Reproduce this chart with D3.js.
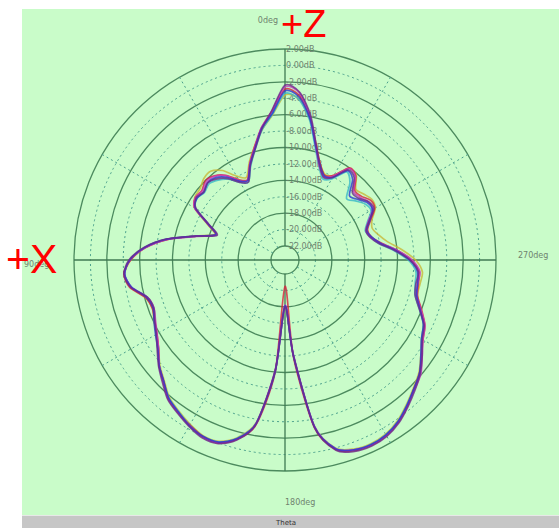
<!DOCTYPE html>
<html>
<head>
<meta charset="utf-8">
<script src="https://cdnjs.cloudflare.com/ajax/libs/d3/7.8.5/d3.min.js"></script>
<style>
  body { margin: 0; background: #fff; }
  svg { display: block; }
</style>
</head>
<body>
<div id="chart"></div>
<script>
// angle of each sample, degrees (0 = top, 90 = left, 180 = bottom, 270 = right)
var angles = [0,5,10,15,20,25,30,35,40,45,50,55,60,65,70,75,80,85,90,95,100,105,110,115,
  120,125,130,135,140,145,150,155,160,165,170,175,180,185,190,195,200,205,210,215,220,225,230,235,
  240,245,250,255,260,265,270,275,280,285,290,295,300,305,310,315,320,325,330,335,340,345,350,355]

var ringDb = [2,0,-2,-4,-6,-8,-10,-12,-14,-16,-18,-20,-22]
var spokeDeg = [30,60,120,150,210,240,300,330]
var angleLabels = ['0deg','90deg','180deg','270deg']

// gain in dB for each trace
var olive = [-3.6,-6.0,-7.6,-9.4,-11.0,-12.6,-11.9,-10.4,-9.6,-9.7,-10.2,-10.3,
  -11.0,-13.2,-14.6,-12.4,-9.2,-6.6,-4.9,-4.1,-4.6,-6.1,-6.5,-6.1,
  -5.6,-4.9,-3.8,-2.9,-1.8,-1.2,-0.6,-0.1,-0.2,-1.3,-3.6,-10.2,
  -18.0,-12.0,-3.2,0.0,0.8,1.0,0.8,0.2,-0.7,-1.6,-2.4,-3.5,
  -4.5,-5.1,-6.2,-7.0,-7.0,-6.9,-7.8,-9.4,-11.0,-11.9,-12.4,-12.0,
  -11.0,-10.8,-11.2,-11.5,-10.2,-10.1,-11.8,-12.2,-11.2,-9.2,-6.3,-4.0]
var cyan = [-3.4,-5.9,-7.6,-9.7,-11.5,-13.2,-12.8,-11.7,-11.0,-10.6,-10.9,-10.6,
  -11.1,-13.4,-14.8,-12.5,-9.1,-6.5,-4.8,-4.1,-4.7,-6.3,-6.6,-6.2,
  -5.6,-4.8,-3.7,-2.8,-1.7,-1.1,-0.5,0.0,-0.1,-1.2,-3.5,-10.2,
  -18.1,-12.1,-3.1,0.1,0.9,1.1,0.9,0.3,-0.6,-1.5,-2.3,-3.4,
  -4.5,-5.1,-6.3,-7.3,-7.6,-7.7,-8.7,-10.4,-12.1,-12.9,-13.3,-12.6,
  -11.6,-11.8,-12.5,-13.1,-11.4,-10.6,-12.3,-12.8,-11.6,-9.5,-6.4,-4.1]
var red = [-2.9,-5.5,-7.3,-9.4,-11.2,-12.9,-12.4,-11.1,-10.3,-10.0,-10.5,-10.4,
  -11.0,-13.3,-14.7,-12.5,-9.2,-6.6,-4.9,-4.0,-4.5,-6.1,-6.5,-6.2,
  -5.7,-4.9,-3.7,-2.8,-1.6,-1.0,-0.5,0.0,0.0,-1.1,-3.3,-10.0,
  -20.5,-11.8,-2.9,0.2,1.0,1.2,1.0,0.4,-0.5,-1.5,-2.3,-3.4,
  -4.3,-4.9,-6.0,-7.0,-7.2,-7.3,-8.3,-10.0,-11.8,-12.8,-13.0,-12.2,
  -11.1,-11.0,-11.6,-11.7,-10.3,-10.0,-11.8,-12.3,-11.2,-9.1,-6.1,-3.6]
var magenta = [-2.6,-5.5,-7.3,-9.5,-11.2,-13.0,-12.6,-11.2,-10.4,-10.2,-10.6,-10.4,
  -11.0,-13.4,-14.8,-12.6,-9.2,-6.6,-4.8,-4.1,-4.7,-6.3,-6.7,-6.3,
  -5.7,-4.9,-3.7,-2.7,-1.6,-1.0,-0.4,0.1,0.0,-1.1,-3.5,-10.4,
  -18.2,-12.2,-3.2,0.1,0.9,1.2,1.0,0.4,-0.5,-1.4,-2.1,-3.3,
  -4.3,-4.9,-6.1,-7.1,-7.3,-7.2,-8.2,-10.0,-11.9,-12.9,-13.2,-12.5,
  -11.4,-11.3,-11.8,-11.9,-10.4,-10.1,-11.9,-12.5,-11.5,-9.3,-6.0,-3.3]
var blue = [-3.1,-5.8,-7.4,-9.6,-11.3,-13.0,-12.6,-11.4,-10.6,-10.4,-10.8,-10.6,
  -11.1,-13.4,-14.7,-12.4,-9.1,-6.5,-4.8,-4.1,-4.7,-6.2,-6.6,-6.1,
  -5.5,-4.8,-3.7,-2.8,-1.7,-1.1,-0.4,0.0,-0.1,-1.2,-3.5,-10.1,
  -18.1,-12.0,-3.1,0.1,0.9,1.1,0.9,0.3,-0.6,-1.5,-2.3,-3.5,
  -4.5,-5.1,-6.2,-7.1,-7.3,-7.5,-8.5,-10.2,-11.9,-12.8,-13.1,-12.3,
  -11.4,-11.5,-12.2,-12.6,-10.9,-10.4,-12.1,-12.4,-11.3,-9.3,-6.2,-3.8]
var purple = [-2.4,-5.4,-7.5,-9.7,-11.4,-13.2,-12.8,-11.6,-10.8,-10.4,-10.8,-10.5,
  -11.2,-13.5,-14.9,-12.5,-9.0,-6.4,-4.7,-4.0,-4.6,-6.3,-6.7,-6.2,
  -5.6,-4.7,-3.6,-2.6,-1.5,-0.9,-0.3,0.2,0.1,-1.0,-3.4,-10.3,
  -18.0,-12.1,-3.0,0.3,1.1,1.3,1.1,0.5,-0.4,-1.3,-2.2,-3.3,
  -4.4,-5.0,-6.3,-7.3,-7.5,-7.4,-8.5,-10.3,-12.1,-13.0,-13.2,-12.4,
  -11.2,-11.3,-12.0,-12.1,-10.6,-10.3,-12.1,-12.6,-11.4,-9.1,-5.8,-3.2]

var series = [
  {name: 'olive', color: '#c8b838', values: olive},
  {name: 'cyan', color: '#38b8c8', values: cyan},
  {name: 'red', color: '#d8203c', values: red},
  {name: 'magenta', color: '#c838c0', values: magenta},
  {name: 'blue', color: '#2838d0', values: blue},
  {name: 'purple', color: '#6a2a8a', values: purple}
]

var W = 559, H = 528
var cx = 285, cy = 260

var svg = d3.select('#chart').append('svg').attr('width', W).attr('height', H)

svg.append('rect').attr('x', 22).attr('y', 9).attr('width', W - 22).attr('height', 506).attr('fill', '#c9fcc9')
svg.append('rect').attr('x', 22).attr('y', 515).attr('width', W - 22).attr('height', 13).attr('fill', '#c6c6c6')
svg.append('line').attr('x1', 22).attr('x2', W).attr('y1', 515.5).attr('y2', 515.5).attr('stroke', '#e8e8e8')

var r = d3.scaleLinear().domain([-22, 2]).range([14, 211])

var g = svg.append('g').attr('transform', 'translate(' + cx + ',' + cy + ')')

// rings
g.selectAll('circle.ring').data(ringDb).join('circle')
  .attr('class', 'ring')
  .attr('r', d => r(d))
  .attr('fill', d => d == -22 ? '#c9fcc9' : 'none')
  .attr('stroke', (d, i) => i % 2 == 0 ? '#4c8a5e' : '#4aa08c')
  .attr('stroke-width', (d, i) => i % 2 == 0 ? 1.3 : 1)
  .attr('stroke-dasharray', (d, i) => i % 2 == 0 ? null : '2,3')

// dotted spokes
g.selectAll('line.spoke').data(spokeDeg).join('line')
  .attr('class', 'spoke')
  .attr('x1', d => -r(-22) * Math.sin(d * Math.PI / 180))
  .attr('y1', d => -r(-22) * Math.cos(d * Math.PI / 180))
  .attr('x2', d => -r(2) * Math.sin(d * Math.PI / 180))
  .attr('y2', d => -r(2) * Math.cos(d * Math.PI / 180))
  .attr('stroke', '#4aa08c').attr('stroke-dasharray', '2,3')

// main axes
g.append('line').attr('x1', -r(2)).attr('x2', r(2)).attr('y1', 0).attr('y2', 0)
  .attr('stroke', '#3f7a52').attr('stroke-width', 1.3)
g.append('line').attr('x1', 0).attr('x2', 0).attr('y1', -r(2)).attr('y2', -r(-22))
  .attr('stroke', '#3f7a52').attr('stroke-width', 1.3)
g.append('line').attr('x1', 0).attr('x2', 0).attr('y1', r(-22)).attr('y2', r(2))
  .attr('stroke', '#3f7a52').attr('stroke-width', 1.3)

// ring labels
g.selectAll('text.rl').data(ringDb).join('text')
  .attr('class', 'rl')
  .attr('x', 1).attr('y', d => -r(d))
  .attr('dy', '0.35em')
  .attr('font-family', 'DejaVu Sans, sans-serif').attr('font-size', 8)
  .attr('fill', '#6f836f')
  .text(d => d.toFixed(2) + 'dB')

// traces
var line = d3.lineRadial()
  .angle((d, i) => -angles[i] * Math.PI / 180)
  .radius(d => r(d))
  .curve(d3.curveCardinalClosed.tension(0.2))

g.selectAll('path.trace').data(series).join('path')
  .attr('class', 'trace')
  .attr('d', d => line(d.values))
  .attr('fill', 'none')
  .attr('stroke', d => d.color)
  .attr('stroke-width', 1.7)
  .attr('stroke-opacity', 0.8)

// angle labels
var lab = svg.append('g').attr('font-family', 'DejaVu Sans, sans-serif').attr('font-size', 8).attr('fill', '#6f836f')
lab.append('text').attr('x', 278).attr('y', 23).attr('text-anchor', 'end').text(angleLabels[0])
lab.append('text').attr('x', 24).attr('y', 267).text(angleLabels[1])
lab.append('text').attr('x', 285).attr('y', 505).text(angleLabels[2])
lab.append('text').attr('x', 518).attr('y', 258).text(angleLabels[3])
svg.append('text').attr('x', 286).attr('y', 525).attr('text-anchor', 'middle')
  .attr('font-family', 'DejaVu Sans, sans-serif').attr('font-size', 7).attr('fill', '#333').text('Theta')

// red axis markers
svg.append('text').attr('x', 281).attr('y', 37)
  .attr('font-family', 'Liberation Sans, Arial, sans-serif').attr('font-size', 38).attr('fill', '#ff0000').text('+Z')
svg.append('text').attr('x', 6).attr('y', 273)
  .attr('font-family', 'Liberation Sans, Arial, sans-serif').attr('font-size', 41).attr('fill', '#ff0000').text('+X')
</script>
</body>
</html>
